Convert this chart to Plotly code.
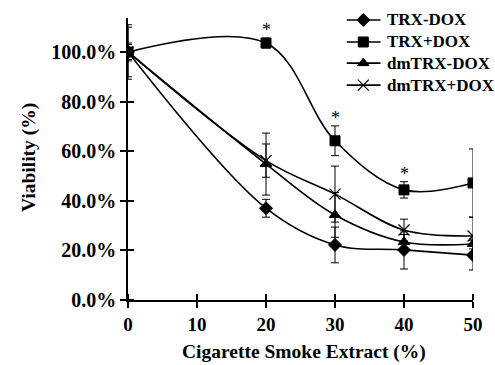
import plotly.graph_objects as go

cse = [0, 20, 30, 40, 50]
trx_minus = [1.00, 0.37, 0.222, 0.202, 0.181]
trx_minus_err = [0.03, 0.036, 0.072, 0.077, 0.06]
trx_plus = [1.00, 1.036, 0.642, 0.444, 0.472]
trx_plus_err = [0.11, 0.02, 0.06, 0.033, 0.137]
dm_minus = [1.00, 0.548, 0.343, 0.234, 0.226]
dm_minus_err = [0.10, 0.125, 0.09, 0.03, 0.02]
dm_plus = [1.00, 0.562, 0.427, 0.282, 0.258]
dm_plus_err = [0.036, 0.067, 0.113, 0.044, 0.075]
star_x = [20, 30, 40]
star_y = [1.09, 0.735, 0.51]

names = ["TRX-DOX", "TRX+DOX", "dmTRX-DOX", "dmTRX+DOX"]
series = [trx_minus, trx_plus, dm_minus, dm_plus]
errs = [trx_minus_err, trx_plus_err, dm_minus_err, dm_plus_err]
symbols = ["diamond", "square", "triangle-up", "x-thin-open"]
sizes = [10, 10, 10, 11]
mlw = [1, 1, 1, 1.3]
x_title = "Cigarette Smoke Extract (%)"
y_title = "Viability (%)"

FONT = "Liberation Serif"
fig = go.Figure()
for n, s, e, sym, sz, lw in zip(names, series, errs, symbols, sizes, mlw):
    fig.add_trace(go.Scatter(
        x=cse, y=s, name=n, mode="lines+markers", showlegend=False,
        line=dict(color="black", width=1.6, shape="spline", smoothing=1.0),
        marker=dict(symbol=sym, size=sz, color="black",
                    line=dict(color="black", width=lw)),
        error_y=dict(type="data", array=e, color="black", thickness=1, width=4),
    ))

for sx, sy in zip(star_x, star_y):
    fig.add_annotation(x=sx, y=sy, text="*", showarrow=False,
                       font=dict(family=FONT, size=18, color="black"))

# manual legend (paper coordinates; overlay axes x2/y2 span paper 0..1)
leg_y = [0.993, 0.915, 0.840, 0.762]
lx0, lx1, lxm, ltx = 0.634, 0.732, 0.682, 0.746
for n, sym, sz, lw, yy in zip(names, symbols, sizes, mlw, leg_y):
    fig.add_shape(type="line", xref="paper", yref="paper", x0=lx0, x1=lx1,
                  y0=yy, y1=yy, line=dict(color="black", width=1.6))
    fig.add_trace(go.Scatter(x=[lxm], y=[yy], xaxis="x2", yaxis="y2",
                             mode="markers", showlegend=False, cliponaxis=False,
                             hoverinfo="skip",
                             marker=dict(symbol=sym, size=sz, color="black",
                                         line=dict(color="black", width=lw))))
    fig.add_annotation(xref="paper", yref="paper", x=ltx, y=yy, text=n,
                       showarrow=False, xanchor="left", yanchor="middle",
                       font=dict(family=FONT, size=17, color="black", weight="bold"))

# axis titles
fig.add_annotation(xref="paper", yref="paper", x=0.51, y=-0.184, text=x_title,
                   showarrow=False, xanchor="center", yanchor="middle",
                   font=dict(family=FONT, size=19.5, color="black", weight="bold"))
fig.add_annotation(xref="paper", yref="paper", x=-0.287, y=0.507, text=y_title,
                   showarrow=False, xanchor="center", yanchor="middle", textangle=-90,
                   font=dict(family=FONT, size=19.5, color="black", weight="bold"))

tickfont_x = dict(family=FONT, size=19, color="black", weight="bold")
tickfont_y = dict(family=FONT, size=20, color="black", weight="bold")
xt = [0, 10, 20, 30, 40, 50]
yt = [0, 0.2, 0.4, 0.6, 0.8, 1.0]

fig.update_layout(
    width=495, height=365,
    margin=dict(l=128, r=12, t=18, b=65),
    paper_bgcolor="white", plot_bgcolor="white",
    font=dict(family=FONT, color="black"),
    showlegend=False,
    xaxis=dict(range=[0, 50], tickvals=xt,
               showline=True, linecolor="black", linewidth=1.5,
               ticks="outside", ticklen=6, tickcolor="black", tickwidth=1.5,
               minor=dict(tickvals=[v + 1e-4 for v in xt], ticks="inside", ticklen=6,
                          tickcolor="black", tickwidth=1.5, showgrid=False),
               showgrid=False, zeroline=False, tickfont=tickfont_x),
    yaxis=dict(range=[0, 1.137], tickvals=yt,
               tickformat=".1%",
               showline=True, linecolor="black", linewidth=1.5,
               ticks="outside", ticklen=6, tickcolor="black", tickwidth=1.5,
               minor=dict(tickvals=[v + 1e-5 for v in yt], ticks="inside", ticklen=6,
                          tickcolor="black", tickwidth=1.5, showgrid=False),
               showgrid=False, zeroline=False, tickfont=tickfont_y),
    xaxis2=dict(domain=[0, 1], range=[0, 1], overlaying="x", anchor="y2", visible=False),
    yaxis2=dict(domain=[0, 1], range=[0, 1], overlaying="y", anchor="x2", visible=False),
)
fig.write_html("out.html", config={"displayModeBar": False},
               post_script="document.body.style.margin='0px';document.body.style.overflow='hidden';")
